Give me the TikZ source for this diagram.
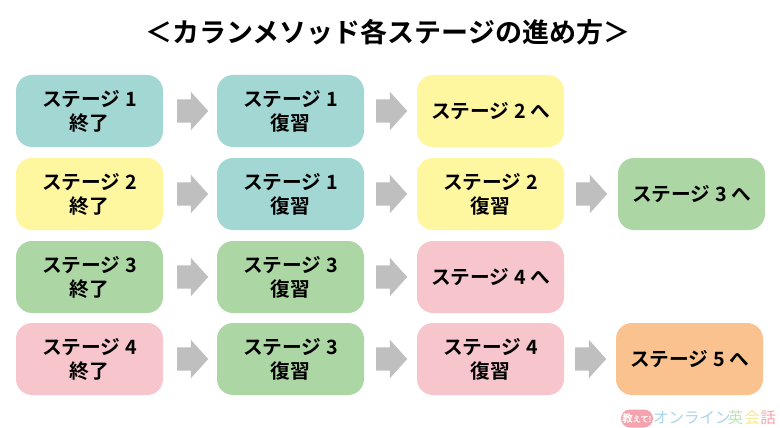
\documentclass[tikz,border=0pt]{standalone}
\usepackage{fontspec}
\usetikzlibrary{shapes.arrows,shapes.misc}
\setmainfont{Noto Sans CJK JP}[BoldFont={Noto Sans CJK JP Bold}]
\newfontfamily\jpb{Noto Sans CJK JP Bold}
\definecolor{cteal}{HTML}{A2D7D4}
\definecolor{cyellow}{HTML}{FFF7A0}
\definecolor{cgreen}{HTML}{ADD6A5}
\definecolor{cpink}{HTML}{F7C5CC}
\definecolor{corange}{HTML}{FAC28F}
\definecolor{carrow}{HTML}{BFBFBF}
\definecolor{lpink}{HTML}{F5A3AE}
\definecolor{lblue}{HTML}{A8D4EE}
\definecolor{lgreen}{HTML}{BFE3B6}
\definecolor{lyellow}{HTML}{FBE794}
\tikzset{
  box/.style={rounded corners=16pt,minimum width=147pt,minimum height=72pt,inner sep=0pt,align=center,text=black,
    font=\jpb\fontsize{19.7}{24}\selectfont},
  twoline/.style={box,execute at begin node={\vrule height 19.5pt width 0pt}},
  blockarrow/.style={single arrow,fill=carrow,inner xsep=0pt,inner ysep=11.5pt,minimum height=31pt,minimum width=38pt,
    single arrow head extend=7.5pt,single arrow tip angle=96,anchor=tail},
  logotext/.style={inner sep=0pt,font=\fontsize{15.5}{15.5}\selectfont,anchor=center}
}
\begin{document}
\begin{tikzpicture}[x=1pt,y=-1pt]
\useasboundingbox[fill=white] (0,0) rectangle (780,428);
\node[inner sep=0pt,font=\jpb\fontsize{27}{30}\selectfont] (title) at (388,32) {＜カランメソッド各ステージの進め方＞};
% row 1
\node[twoline,fill=cteal] (a1) at (89.5,111) {ステージ 1\\終了};
\node[twoline,fill=cteal] (a2) at (290.5,111) {ステージ 1\\復習};
\node[box,fill=cyellow] (a3) at (490.5,111) {ステージ 2 へ};
% row 2
\node[twoline,fill=cyellow] (b1) at (89.5,194) {ステージ 2\\終了};
\node[twoline,fill=cteal] (b2) at (290.5,194) {ステージ 1\\復習};
\node[twoline,fill=cyellow] (b3) at (490.5,194) {ステージ 2\\復習};
\node[box,fill=cgreen] (b4) at (691.5,194) {ステージ 3 へ};
% row 3
\node[twoline,fill=cgreen] (c1) at (89.5,277) {ステージ 3\\終了};
\node[twoline,fill=cgreen] (c2) at (290.5,277) {ステージ 3\\復習};
\node[box,fill=cpink] (c3) at (490.5,277) {ステージ 4 へ};
% row 4
\node[twoline,fill=cpink] (d1) at (89.5,359) {ステージ 4\\終了};
\node[twoline,fill=cgreen] (d2) at (290.5,359) {ステージ 3\\復習};
\node[twoline,fill=cpink] (d3) at (490.5,359) {ステージ 4\\復習};
\node[box,fill=corange] (d4) at (689.5,359) {ステージ 5 へ};
% arrows
\node[blockarrow] (ar11) at (177,111) {};
\node[blockarrow] (ar12) at (376,111) {};
\node[blockarrow] (ar21) at (177,194) {};
\node[blockarrow] (ar22) at (376,194) {};
\node[blockarrow] (ar23) at (576,194) {};
\node[blockarrow] (ar31) at (177,277) {};
\node[blockarrow] (ar32) at (376,277) {};
\node[blockarrow] (ar41) at (177,359) {};
\node[blockarrow] (ar42) at (376,359) {};
\node[blockarrow] (ar43) at (575,359) {};
% logo
\node[rounded rectangle,fill=lpink,minimum width=31pt,minimum height=18pt,inner sep=0pt,text=white,
  font=\jpb\fontsize{8}{8}\selectfont] (badge) at (637,418.5) {{\fontsize{10.5}{10.5}\selectfont 教}えて!};
\node[logotext,text=lblue,anchor=west] (l1) at (653,418) {オンライン};
\node[logotext,text=lgreen] (l2) at (735.5,418) {英};
\node[logotext,text=lyellow] (l3) at (752,418) {会};
\node[logotext,text=lpink] (l4) at (768,418) {話};
\end{tikzpicture}
\end{document}
